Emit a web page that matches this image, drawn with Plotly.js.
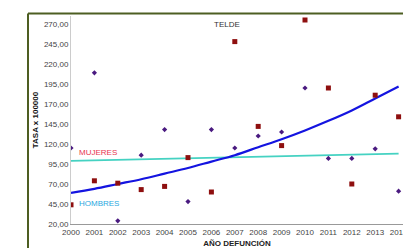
<!DOCTYPE html>
<html>
<head>
<meta charset="utf-8">
<script src="https://cdn.plot.ly/plotly-3.0.1.min.js"></script>
<style>html,body{margin:0;padding:0;background:#fff;}#chart{width:403px;height:248px;}</style>
</head>
<body>
<div id="chart"></div>
<script>
const years = [2000,2001,2002,2003,2004,2005,2006,2007,2008,2009,2010,2011,2012,2013,2014];
const purpleValues = [115,209,24,106,138,48,138,115,130,135,190,102,102,114,61];
const redValues = [44,74,71,63,67,103,60,248,142,118,275,190,70,181,154];
const blueTrend = [59,64,70,76,83,90,98,106,116,126,137,149,162,177,192];
const cyanTrend = [99,99.6,100.3,100.9,101.6,102.2,102.9,103.5,104.1,104.8,105.4,106.1,106.7,107.4,108];
const yTickVals = [20,45,70,95,120,145,170,195,220,245,270];
const yTickText = ["20,00","45,00","70,00","95,00","120,00","145,00","170,00","195,00","220,00","245,00","270,00"];
const xTickText = ["2000","2001","2002","2003","2004","2005","2006","2007","2008","2009","2010","2011","2012","2013","2014"];

const font = "Liberation Sans, Arial, sans-serif";
const traces = [
  {x: years, y: cyanTrend, mode: 'lines', line: {color: '#45d2c2', width: 1.8}, hoverinfo: 'skip'},
  {x: years, y: blueTrend, mode: 'lines', line: {color: '#1414e0', width: 2.2, shape: 'spline'}, hoverinfo: 'skip'},
  {x: years, y: purpleValues, mode: 'markers', marker: {symbol: 'diamond', size: 4, color: '#4a1a80'}},
  {x: years, y: redValues, mode: 'markers', marker: {symbol: 'square', size: 5, color: '#8e0f0f'}}
];
const layout = {
  width: 403, height: 248,
  margin: {l: 71, r: 0, t: 16, b: 24},
  showlegend: false,
  paper_bgcolor: '#fff', plot_bgcolor: '#fff',
  font: {family: font, size: 8, color: '#444'},
  xaxis: {
    range: [2000, 2000 + 332/23.4], tickvals: years, ticktext: xTickText,
    showgrid: false, zeroline: false, showline: true, linecolor: '#999', linewidth: 1,
    ticks: '', tickfont: {size: 8, color: '#444'}, ticklabeloverflow: 'allow',
    title: {text: '<b>AÑO DEFUNCIÓN</b>', font: {size: 8, color: '#222'}, standoff: 6}
  },
  yaxis: {
    range: [20, 280], tickvals: yTickVals, ticktext: yTickText,
    showgrid: false, zeroline: false, showline: true, linecolor: '#ccc', linewidth: 1,
    ticks: '', tickfont: {size: 8, color: '#444'},
    title: {text: '<b>TASA x 100000</b>', font: {size: 8, color: '#111'}, standoff: 4}
  },
  annotations: [
    {text: 'TELDE', x: 2006.67, y: 270, xref: 'x', yref: 'y', showarrow: false, font: {size: 8, color: '#333'}},
    {text: 'MUJERES', x: 2000.25, y: 110, xref: 'x', yref: 'y', xanchor: 'left', showarrow: false, font: {size: 8, color: '#e8344e'}},
    {text: 'HOMBRES', x: 2000.25, y: 46, xref: 'x', yref: 'y', xanchor: 'left', showarrow: false, font: {size: 8, color: '#2aa8e0'}}
  ],
  shapes: [
    {type: 'line', xref: 'paper', yref: 'paper', x0: -0.1295, x1: 1.05, y0: 1.012, y1: 1.012, line: {color: '#4d5e22', width: 2}},
    {type: 'line', xref: 'paper', yref: 'paper', x0: -0.1295, x1: -0.1295, y0: 1.012, y1: -0.2, line: {color: '#4d5e22', width: 2}}
  ]
};
Plotly.newPlot('chart', traces, layout, {displayModeBar: false, staticPlot: true});
</script>
</body>
</html>
